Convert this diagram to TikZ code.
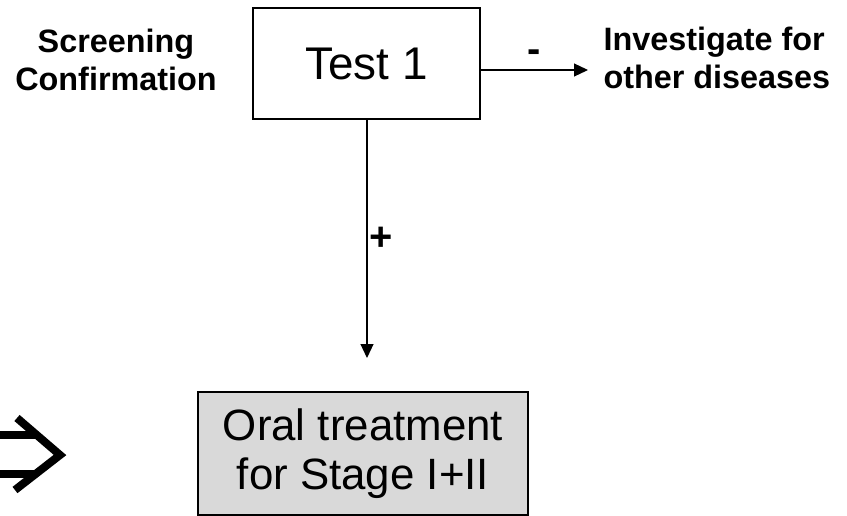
\documentclass[tikz,border=0pt]{standalone}
\usepackage{fontspec}
\setmainfont{Liberation Sans}
\usetikzlibrary{calc, arrows.meta}

\begin{document}
\begin{tikzpicture}[x=1bp,y=-1bp]
\tikzset{>={Triangle[length=14bp,width=13bp]}}
\tikzset{box/.style={draw, line width=1.4bp, inner sep=0pt}}
\tikzset{lbl/.style={font=\bfseries\fontsize{32.5}{38}\selectfont, align=center}}
\tikzset{sign/.style={font=\bfseries\fontsize{40}{40}\selectfont}}

  \useasboundingbox (0,0) rectangle (847,516);

  \node[box, minimum width=227bp, minimum height=111bp,
        font=\fontsize{46}{50}\selectfont] (test) at (366.5,63.5) {Test 1};
  \node[box, fill=black!15, minimum width=330bp, minimum height=123bp,
        font=\fontsize{44}{49}\selectfont, align=center] (oral) at (363,453.5)
        {Oral treatment\\ for Stage I+II};

  \node[lbl] (screen) at (116,60) {Screening\\Confirmation};
  \node[lbl, anchor=west, align=left] (invest) at (600,58) {Investigate for\\other diseases};

  \coordinate (negtip) at (588,70);
  \coordinate (postip) at (367,358);

    \draw[line width=1.2bp,->] (test.east |- negtip) -- node[above=4bp, sign] {-} (negtip);
    \draw[line width=1.2bp,->] (test.south -| postip) -- node[right=-1bp, sign] {+} (postip);

    % double arrow on the left
    \draw[line width=8bp] (0,435) -- (36,435);
    \draw[line width=8bp] (0,474) -- (36,474);
    \draw[line width=8bp, miter limit=20] (17,418) -- (60,455) -- (15,490);
\end{tikzpicture}
\end{document}
